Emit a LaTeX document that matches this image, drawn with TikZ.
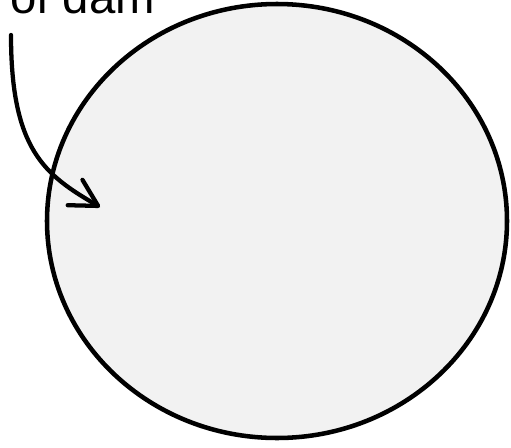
\documentclass[tikz,border=0pt]{standalone}
\usepackage{fontspec}
\setmainfont{Liberation Sans}
\usetikzlibrary{shapes.geometric}
\usetikzlibrary{arrows.meta}
\definecolor{damgray}{RGB}{242,242,242}

\begin{document}
\begin{tikzpicture}[
    x=0.75pt, y=-0.75pt,
    damshape/.style={ellipse, draw, line width=3.4pt, fill=damgray, minimum width=345pt, minimum height=325.5pt},
    caption/.style={inner sep=0pt, anchor=base west, font=\fontsize{35.5}{40}\selectfont},
    pointer/.style={line width=3.2pt, line cap=round, -{Straight Barb[length=20pt, width=22pt, line cap=round, line join=round]}}
]

% Define frame
\path[use as bounding box, clip] (0,0) rectangle (511,447);

% Define nodes
\node[damshape] (dam) at (277,221) {};
\node[caption] (lbl) at (10,13) {of dam};
\coordinate (tail) at (11,35);
\coordinate (tip) at (100,207);

% Define arrow
\draw[pointer] (tail) .. controls (11,150) and (45,175) .. (tip);

\end{tikzpicture}
\end{document}
